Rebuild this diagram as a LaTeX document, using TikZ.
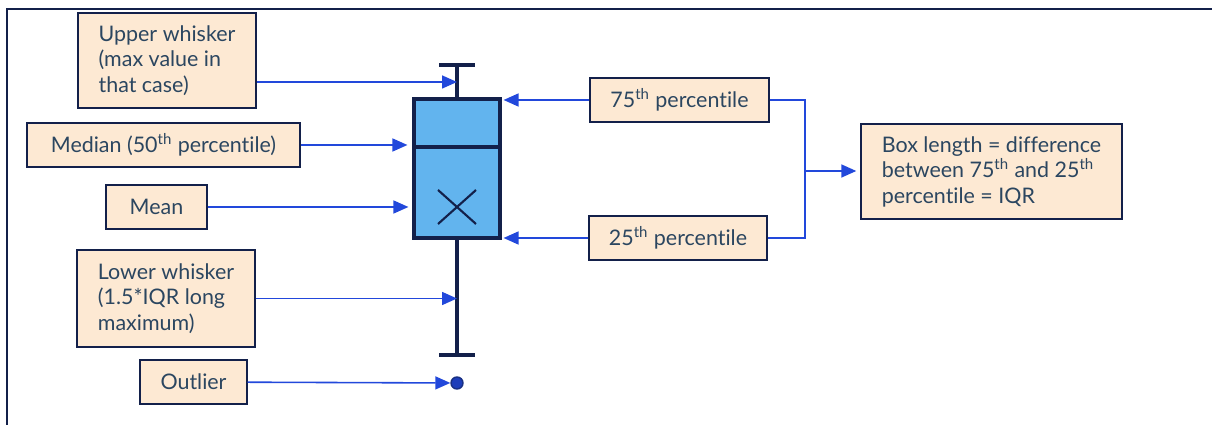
\documentclass[tikz,border=0pt]{standalone}
\usepackage{fontspec}
\setmainfont{Lato}[Ligatures=NoCommon]
\usetikzlibrary{arrows.meta, positioning}
\definecolor{cnavy}{HTML}{13204A}
\definecolor{cslate}{HTML}{2B4660}
\definecolor{cpeach}{HTML}{FDE9D3}
\definecolor{cbox}{HTML}{62B4EE}
\definecolor{carrow}{HTML}{2248DB}
\tikzset{
  every picture/.style={font=\fontsize{12.2}{14.5}\selectfont},
  note/.style={draw=cnavy, fill=cpeach, text=cslate, line width=0.8pt, minimum height=0.88cm, inner sep=0pt},
  wrapnote/.style={note, align=left, minimum width=#1, minimum height=1.9cm},
  arrow/.style={-{Triangle[length=0.3cm, width=0.26cm]}, draw=carrow, line width=0.9pt},
  link/.style={draw=carrow, line width=0.9pt},
  plotline/.style={draw=cnavy, line width=1.8pt},
}

\begin{document}
\begin{tikzpicture}
  \useasboundingbox (0,0) rectangle (24.24,-8.5);
  \draw[cnavy, line width=1.4pt] (0.14,-8.5) -- (0.14,-0.18) -- (24.24,-0.18);
  % box plot
  \node[plotline, fill=cbox, minimum width=1.72cm, minimum height=2.78cm, inner sep=0pt] (bp) at (9.14,-3.37) {};
  \draw[plotline] (bp.west |- 0,-2.94) -- (bp.east |- 0,-2.94);
  \coordinate (uwcap) at (9.14,-1.3); \coordinate (lwcap) at (9.14,-7.1);
  \draw[plotline] (bp.north) -- (uwcap) (uwcap) ++(-0.36,0) -- ++(0.72,0);
  \draw[plotline] (bp.south) -- (lwcap) (lwcap) ++(-0.36,0) -- ++(0.72,0);
  \coordinate (xm) at (9.14,-4.14);
  \draw[cnavy, line width=1.2pt] (xm) ++(-0.38,0.34) -- ++(0.76,-0.68) (xm) ++(-0.38,-0.34) -- ++(0.76,0.68);
  \node[circle, draw=cnavy!60!carrow, fill=carrow!85!black, line width=0.8pt, minimum size=0.24cm, inner sep=0pt] (dot) at (9.14,-7.66) {};
  % notes
  \node[wrapnote=3.56cm] (uw) at (3.34,-1.21) {Upper whisker\\(max value in\\that case)};
  \node[note, minimum width=5.46cm] (med) at (3.27,-2.9) {Median (50\textsuperscript{th} percentile)};
  \node[note, minimum width=2.02cm] (mean) at (3.13,-4.14) {Mean};
  \node[wrapnote=3.56cm, minimum height=1.94cm] (lw) at (3.32,-5.97) {Lower whisker\\(1.5*IQR long\\maximum)};
  \node[note, minimum width=2.14cm] (out) at (3.87,-7.64) {Outlier};
  \node[note, minimum width=3.58cm] (p75) at (13.59,-2.0) {75\textsuperscript{th} percentile};
  \node[note, minimum width=3.56cm] (p25) at (13.56,-4.76) {25\textsuperscript{th} percentile};
  \node[wrapnote=5.22cm] (iqr) at (19.83,-3.43) {Box length = difference\\between 75\textsuperscript{th} and 25\textsuperscript{th}\\percentile = IQR};
  % arrows
  \coordinate (uwtip) at (9.14,-1.64);
  \draw[arrow] (uw.east |- uwtip) -- (uwtip);
  \draw[arrow, shorten >=0.1cm] (med) -- (bp.west |- med);
  \draw[arrow, shorten >=0.08cm] (mean) -- (bp.west |- mean);
  \draw[arrow] (lw) -- (lw -| bp);
  \draw[arrow] (out) -- (dot);
  \draw[arrow, shorten >=0.04cm] (p75.west) -- (bp.east |- p75.west);
  \draw[arrow, shorten >=0.04cm] (p25.west) -- (bp.east |- p25.west);
  \coordinate (brk) at (16.1,-3.42);
  \draw[link] (p75.east) -| (brk) |- (p25.east);
  \draw[arrow, shorten >=0.08cm] (brk) -- (iqr.west |- brk);
\end{tikzpicture}
\end{document}
